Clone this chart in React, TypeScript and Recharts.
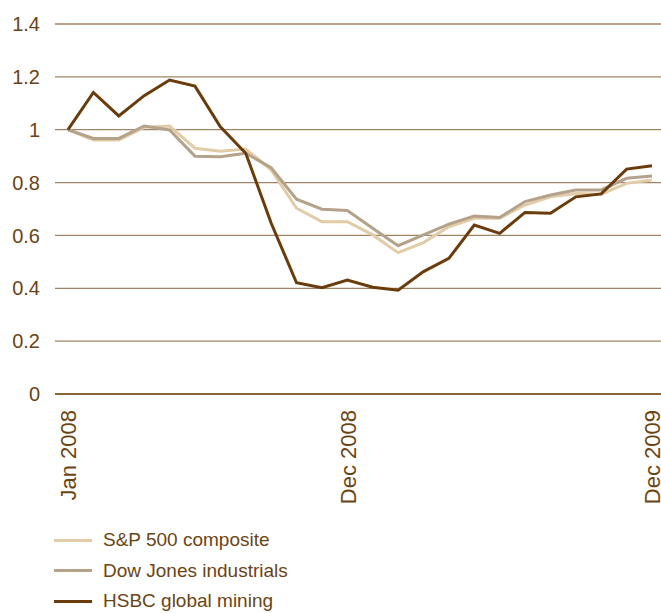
import React from 'react';
import { LineChart, Line, XAxis, YAxis, CartesianGrid, Legend } from 'recharts';

const months = [
  'Jan 2008', 'Feb 2008', 'Mar 2008', 'Apr 2008', 'May 2008', 'Jun 2008',
  'Jul 2008', 'Aug 2008', 'Sep 2008', 'Oct 2008', 'Nov 2008', 'Dec 2008',
  'Jan 2009', 'Feb 2009', 'Mar 2009', 'Apr 2009', 'May 2009', 'Jun 2009',
  'Jul 2009', 'Aug 2009', 'Sep 2009', 'Oct 2009', 'Nov 2009', 'Dec 2009',
];

const sp500 = [
  1.0, 0.961, 0.961, 1.009, 1.014, 0.93, 0.919, 0.927, 0.848, 0.703, 0.652, 0.652,
  0.602, 0.535, 0.573, 0.633, 0.665, 0.665, 0.715, 0.746, 0.759, 0.756, 0.797, 0.81,
];

const dowJones = [
  1.0, 0.967, 0.967, 1.014, 0.999, 0.9, 0.898, 0.911, 0.856, 0.737, 0.699, 0.694,
  0.627, 0.561, 0.602, 0.643, 0.673, 0.668, 0.728, 0.753, 0.772, 0.772, 0.816, 0.825,
];

const hsbcMining = [
  1.0, 1.141, 1.052, 1.129, 1.188, 1.165, 1.011, 0.911, 0.647, 0.421, 0.402, 0.431,
  0.404, 0.393, 0.463, 0.513, 0.639, 0.608, 0.687, 0.684, 0.746, 0.757, 0.851, 0.864,
];

const xTickLabels = ['Jan 2008', 'Dec 2008', 'Dec 2009'];
const yTicks = [0, 0.2, 0.4, 0.6, 0.8, 1, 1.2, 1.4];

const series = [
  { key: 'sp', name: 'S&P 500 composite', values: sp500, color: '#e2cba7' },
  { key: 'dow', name: 'Dow Jones industrials', values: dowJones, color: '#b5a28b' },
  { key: 'hsbc', name: 'HSBC global mining', values: hsbcMining, color: '#6a3c0b' },
];

const data = months.map((m, i) => {
  const row: Record<string, string | number> = { month: m };
  series.forEach((s) => {
    row[s.key] = s.values[i];
  });
  return row;
});

const TEXT = '#6b4414';
const FONT = '"Liberation Sans", Arial, Helvetica, sans-serif';

const XTick = (props: any) => {
  const { x, y, payload } = props;
  const tx = x + 1;
  return (
    <text
      x={tx}
      y={y}
      transform={`rotate(-90, ${tx}, ${y})`}
      textAnchor="end"
      dy="0.33em"
      fill={TEXT}
      fontSize={22}
      fontFamily={FONT}
    >
      {payload.value}
    </text>
  );
};

const LegendContent = () => (
  <div style={{ fontFamily: FONT }}>
    {series.map((s) => (
      <div
        key={s.key}
        style={{ display: 'flex', alignItems: 'center', height: 30.5 }}
      >
        <div style={{ width: 38, height: 3, background: s.color, marginRight: 11 }} />
        <span style={{ color: TEXT, fontSize: 19 }}>{s.name}</span>
      </div>
    ))}
  </div>
);

export default function App() {
  return (
    <div style={{ position: 'absolute', left: 0, top: 0, width: 661, height: 613 }}>
      <LineChart
        width={661}
        height={613}
        data={data}
        margin={{ top: 24, right: 0, left: 0, bottom: 0 }}
      >
        <CartesianGrid vertical={false} stroke="#a08466" strokeWidth={1.3} />
        <XAxis
          dataKey="month"
          ticks={xTickLabels}
          interval={0}
          padding={{ left: 13, right: 9 }}
          height={219}
          tickSize={0}
          tickMargin={16}
          axisLine={{ stroke: '#7a4f1e', strokeWidth: 1.5 }}
          tickLine={false}
          tick={<XTick />}
        />
        <YAxis
          domain={[0, 1.4]}
          ticks={yTicks}
          width={55}
          axisLine={false}
          tickLine={false}
          tickSize={0}
          tickMargin={15}
          tickFormatter={(v: number) => String(v)}
          tick={{ fill: TEXT, fontSize: 20, fontFamily: FONT }}
        />
        {series.map((s) => (
          <Line
            key={s.key}
            dataKey={s.key}
            name={s.name}
            type="linear"
            stroke={s.color}
            strokeWidth={3}
            dot={false}
            activeDot={false}
            isAnimationActive={false}
          />
        ))}
        <Legend
          layout="vertical"
          align="center"
          verticalAlign="middle"
          content={<LegendContent />}
          wrapperStyle={{ position: 'absolute', left: 54, top: 525, width: 400, bottom: 'auto', right: 'auto' }}
        />
      </LineChart>
    </div>
  );
}
